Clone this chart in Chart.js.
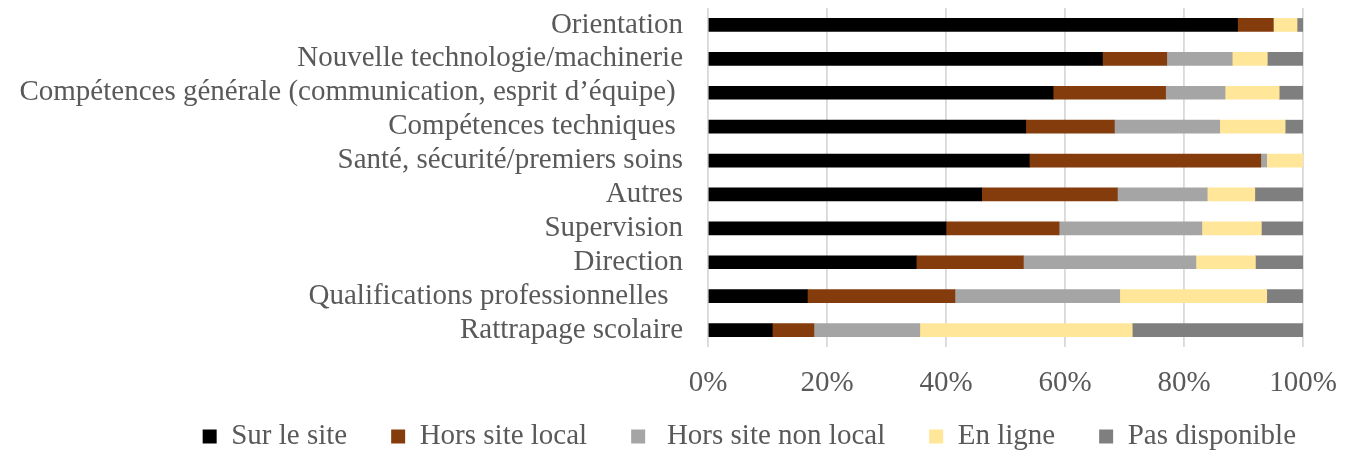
<!DOCTYPE html>
<html>
<head>
<meta charset="utf-8">
<script src="https://cdn.jsdelivr.net/npm/chart.js@4/dist/chart.umd.min.js"></script>
<style>
	body{margin:0;background:#fff;}
	#wrap{width:1348px;height:450px;}
</style>
</head>
<body>
<div id="wrap"><canvas id="barChart" width="1348" height="450"></canvas></div>
<script>
var categories=[
	"Orientation",
	"Nouvelle technologie/machinerie",
	"Compétences générale (communication, esprit d’équipe) ",
	"Compétences techniques ",
	"Santé, sécurité/premiers soins",
	"Autres",
	"Supervision",
	"Direction",
	"Qualifications professionnelles  ",
	"Rattrapage scolaire"
];
var surLeSite=[89,66.3,58,53.4,54,46,40,35,16.7,10.8];
var horsSiteLocal=[6,10.8,18.9,14.9,38.9,22.8,19,18,24.8,7];
var horsSiteNonLocal=[0,11,10,17.7,1,15.1,24,29,27.7,17.8];
var enLigne=[4,5.9,9.1,11,6.1,8,10,10,24.7,35.7];
var pasDisponible=[1,6,4,3,0,8.1,7,8,6.1,28.7];
var seriesLabels=["Sur le site","Hors site local"," Hors site non local","En ligne","Pas disponible"];
var seriesColors=["#000000","#843C0C","#A5A5A5","#FFE699","#7F7F7F"];
var xTicks=[0,20,40,60,80,100];

initialBarChart();

function initialBarChart(){
	var allData=[surLeSite,horsSiteLocal,horsSiteNonLocal,enLigne,pasDisponible];
	var ds=[];
	for(var k=0;k<allData.length;k++){
		ds.push({
			label:seriesLabels[k],
			data:allData[k],
			backgroundColor:seriesColors[k],
			borderWidth:0,
			barThickness:13
		});
	}

	Chart.defaults.font.family="'Liberation Serif', 'Times New Roman', serif";
	Chart.defaults.font.size=29;
	Chart.defaults.color="#595959";

	//legend keeps its wide item padding, but starts higher so the items sit right under the tick labels
	var legendLift={
		id:"legendLift",
		afterLayout:function(chart){
			chart.legend.top-=27;
		}
	};

	var ctx=document.getElementById("barChart").getContext("2d");
	new Chart(ctx,{
		type:"bar",
		data:{labels:categories,datasets:ds},
		plugins:[legendLift],
		options:{
			indexAxis:"y",
			responsive:false,
			animation:false,
			layout:{padding:{top:8,right:8,left:0,bottom:0}},
			scales:{
				x:{
					stacked:true,
					min:0,
					max:100,
					afterBuildTicks:function(scale){
						scale.ticks=xTicks.map(function(v){return {value:v};});
					},
					ticks:{
						padding:19,
						callback:function(v){return v+"%";}
					},
					grid:{color:"#D9D9D9",lineWidth:1.8,drawTicks:false},
					border:{display:false},
					afterFit:function(scale){
						scale.height=58;
						scale.paddingRight=45;
						scale.paddingLeft=0;
					}
				},
				y:{
					stacked:true,
					ticks:{padding:25,autoSkip:false},
					grid:{display:false,drawTicks:false},
					border:{display:false},
					afterFit:function(scale){
						scale.width=708;
						scale.paddingTop=0;
						scale.paddingBottom=0;
					}
				}
			},
			plugins:{
				tooltip:{enabled:false},
				legend:{
					position:"bottom",
					align:"end",
					maxHeight:45,
					labels:{boxWidth:14,boxHeight:14,padding:44}
				}
			}
		}
	});
}
</script>
</body>
</html>
